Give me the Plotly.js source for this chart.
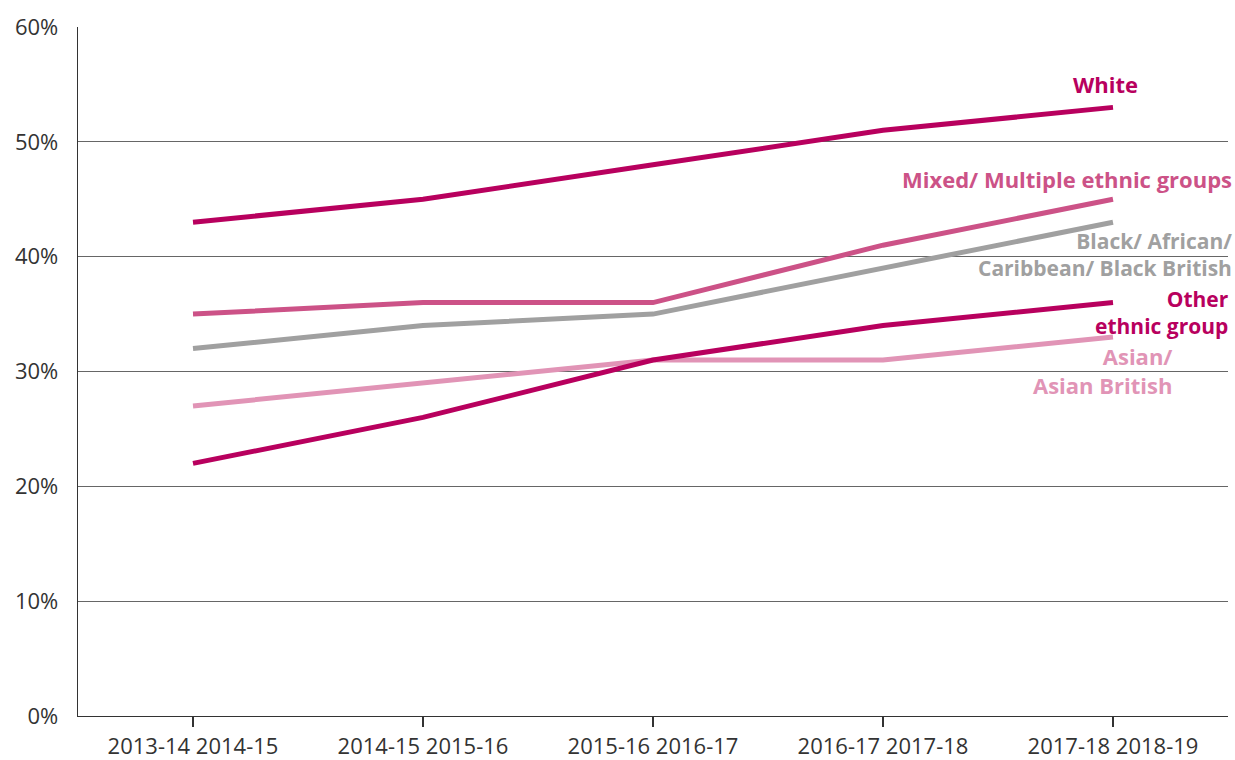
<!DOCTYPE html>
<html><head><meta charset="utf-8">
<script src="https://cdn.plot.ly/plotly-3.0.1.min.js"></script>
<style>html,body{margin:0;padding:0;background:#fff;}#chart{width:1235px;height:760px;}</style>
</head><body><div id="chart"></div>
<script>
const categories = ["2013-14 2014-15","2014-15 2015-16","2015-16 2016-17","2016-17 2017-18","2017-18 2018-19"];
const white = [43,45,48,51,53];
const mixed = [35,36,36,41,45];
const black = [32,34,35,39,43];
const other = [22,26,31,34,36];
const asian = [27,29,31,31,33];
const yTickVals = [0,10,20,30,40,50,60];
const yTickText = ["0%","10%","20%","30%","40%","50%","60%"];

const cWhite = "#B8005E", cMixed = "#CC5287", cBlack = "#A0A0A0", cOther = "#B8005E", cAsian = "#E194B6";
const xi = categories.map((_, i) => i);
function tr(y, c){ return {x: xi, y: y, type: "scatter", mode: "lines", line: {color: c, width: 5}, hoverinfo: "skip"}; }
const data = [tr(asian,cAsian), tr(black,cBlack), tr(mixed,cMixed), tr(other,cOther), tr(white,cWhite)];

function ann(text, x, y, c, s){ return {text: text, x: x, y: y, xref: "paper", yref: "y", xanchor: "right", yanchor: "middle", align: "right", showarrow: false, borderpad: 0, font: {family: "Open Sans", size: s || 22, color: c, weight: "bold"}}; }
const annotations = [
  ann("White", 0.923, 55.0, cWhite),
  ann("Mixed/ Multiple ethnic groups", 1.004, 46.8, cMixed),
  ann("Black/ African/<br>Caribbean/ Black British", 1.004, 40.2, cBlack, 21),
  ann("Other<br>ethnic group", 1.002, 35.15, cOther, 21),
  ann("Asian/<br>Asian British", 0.952, 30.05, cAsian)
];

const layout = {
  width: 1235, height: 760,
  margin: {l: 78, r: 7, t: 27, b: 44},
  paper_bgcolor: "#fff", plot_bgcolor: "#fff",
  showlegend: false,
  font: {family: "Open Sans", size: 22, color: "#333"},
  xaxis: {range: [-0.5, 4.5], tickmode: "array", tickvals: xi, ticktext: categories,
    tickfont: {family: "Open Sans", size: 22, color: "#333"},
    showgrid: false, zeroline: false, showline: true, linecolor: "#333", linewidth: 1.3,
    ticks: "outside", ticklen: 10, tickcolor: "#333", tickwidth: 1.3, fixedrange: true},
  yaxis: {range: [0, 60], tickmode: "array", tickvals: yTickVals, ticktext: yTickText,
    tickfont: {family: "Open Sans", size: 22, color: "#333"},
    showgrid: true, gridcolor: "#666", gridwidth: 1, zeroline: false,
    showline: true, linecolor: "#333", linewidth: 1.3, ticks: "", ticklabelstandoff: 14, fixedrange: true},
  annotations: annotations
};
Plotly.newPlot("chart", data, layout, {displayModeBar: false, staticPlot: true});
</script></body></html>
